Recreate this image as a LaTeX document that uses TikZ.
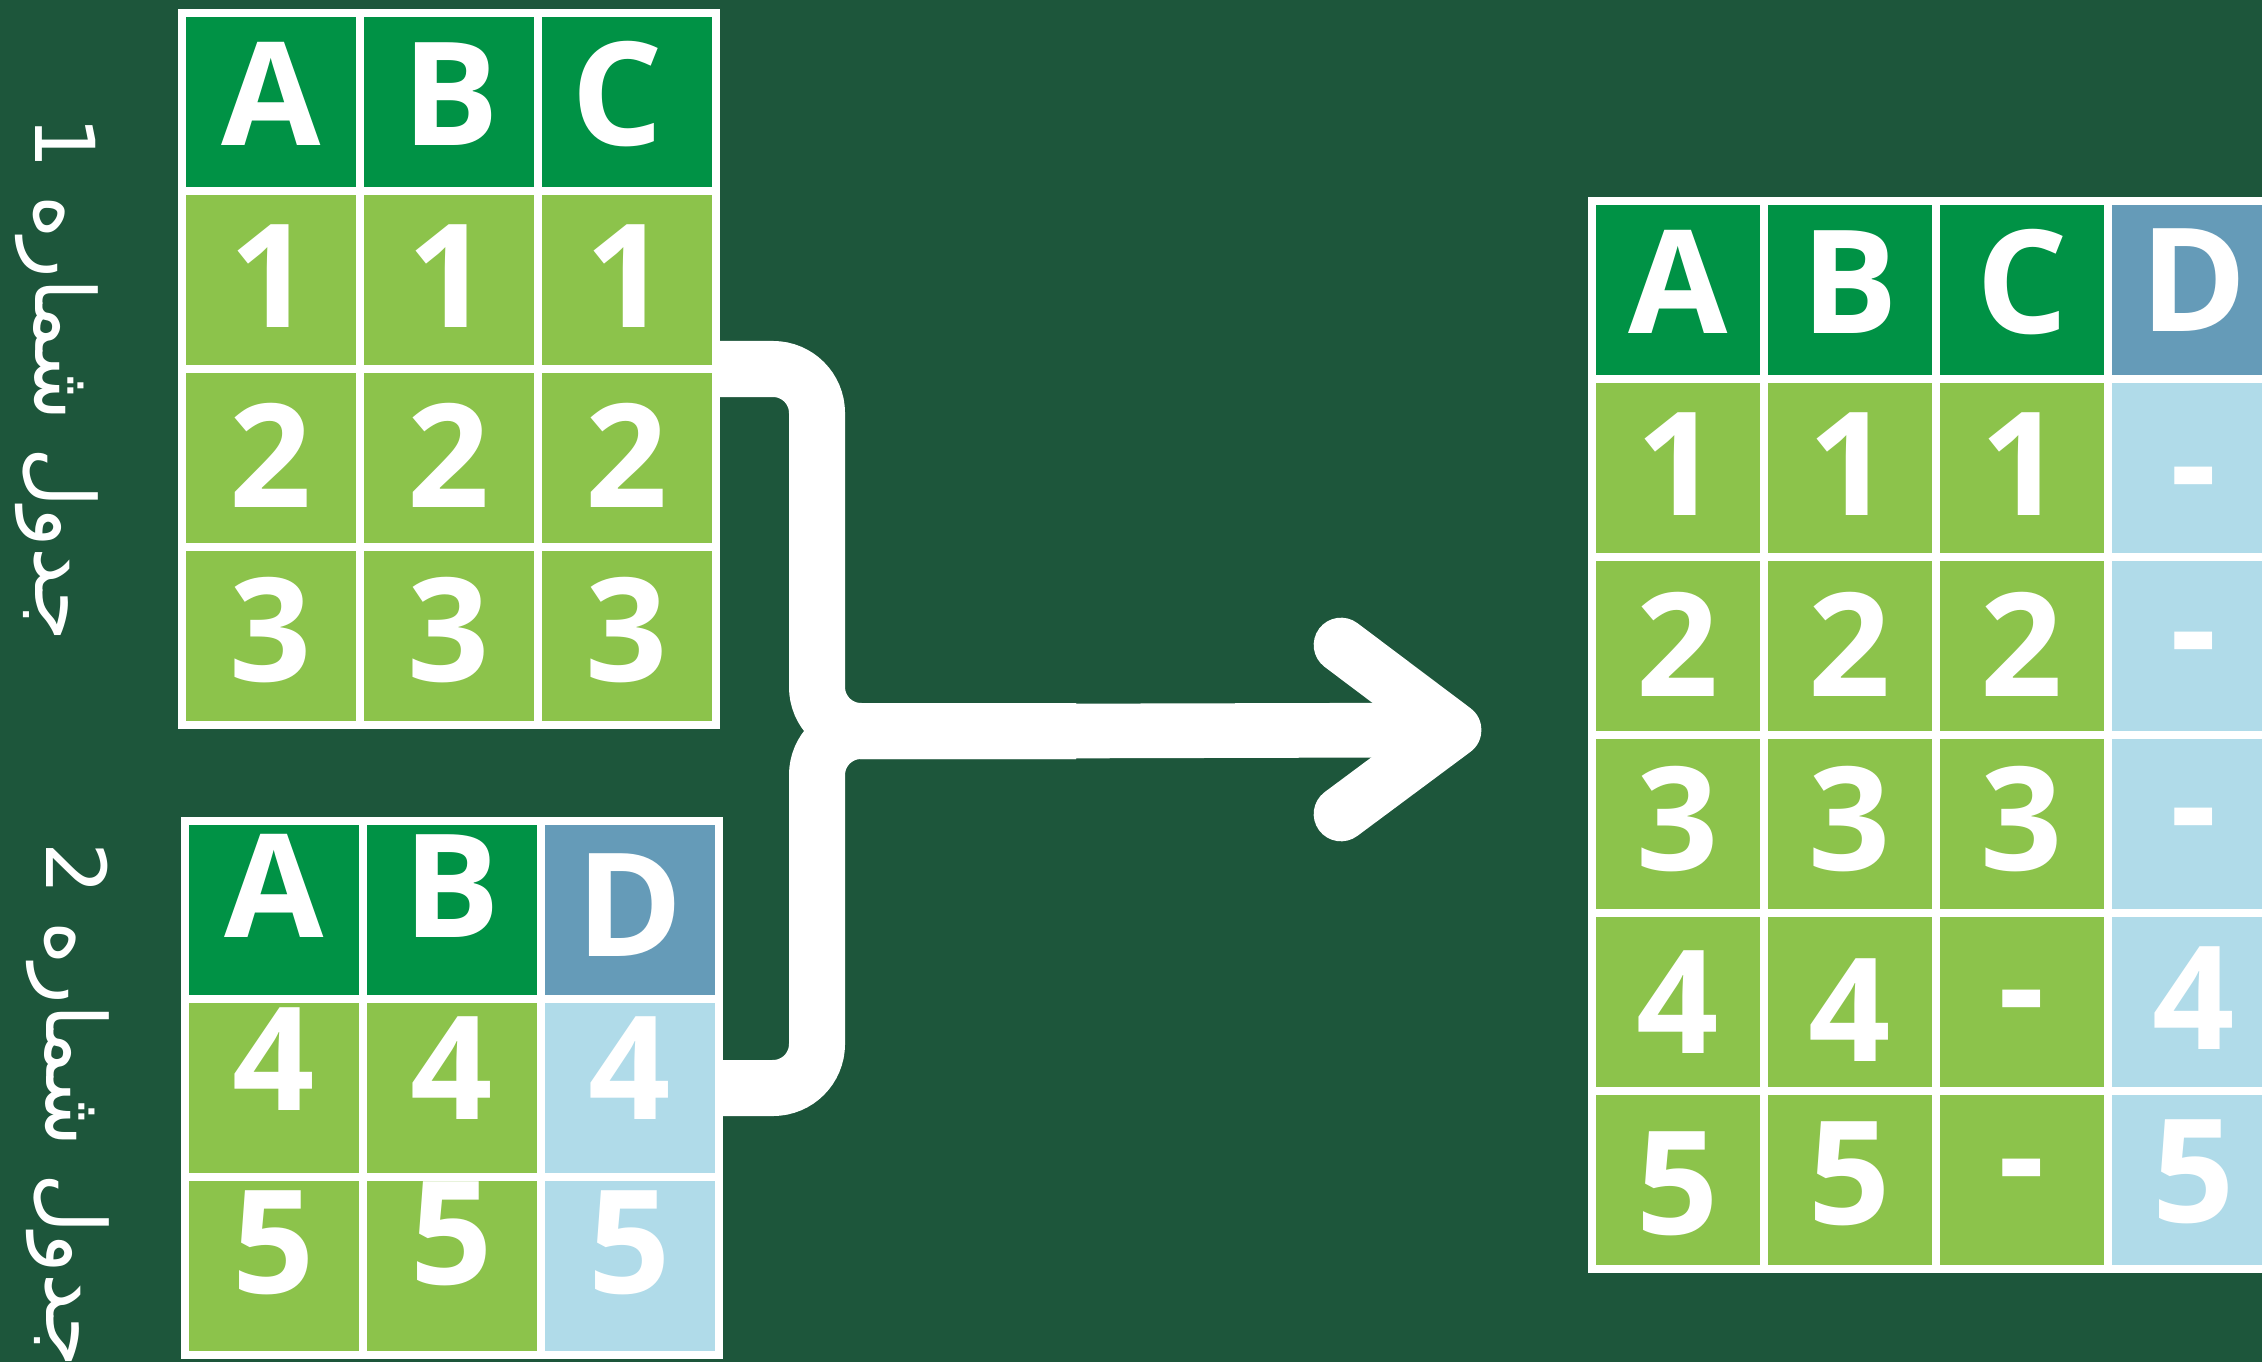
\documentclass[tikz,border=0pt]{standalone}
\usepackage{fontspec}
\newfontfamily\cellfont{Open Sans}
\newfontfamily\arabicfont[Script=Arabic]{DejaVu Sans}
\TeXXeTstate=1
\definecolor{bgc}{RGB}{29,86,59}
\definecolor{hdrg}{HTML}{009245}
\definecolor{lgrn}{HTML}{8CC34B}
\definecolor{hdrb}{HTML}{659BB8}
\definecolor{lblu}{HTML}{B0DBE9}
\tikzset{
 frame/.style={fill=white, draw=none, inner sep=0pt, outer sep=0pt},
 cellbox/.style={draw=none, inner sep=0pt, outer sep=0pt, minimum height=127.5pt},
 wide/.style={minimum width=127.5pt},
 narrow/.style={minimum width=123pt},
 celltext/.style={inner sep=0pt, outer sep=0pt, text=white, text height=77pt, text depth=0pt, font=\cellfont\bfseries\fontsize{108}{108}\selectfont},
 band/.style={draw=white, line width=42pt, rounded corners=33pt},
 chevron/.style={draw=white, line width=41pt, line cap=round, line join=round},
 lbl/.style={text=white, inner sep=0pt, outer sep=0pt, font=\arabicfont\fontsize{62}{62}\selectfont}
}
% name, width style, x, y, fill, text, dy (px, down), dx (px, right)
\newcommand\cellat[8]{%
 \node[cellbox,#2,fill=#5] (#1) at (#3,#4) {};
 \node[celltext] (#1-t) at ([yshift={-0.75pt*(#7)}, xshift={0.75pt*(#8)}]#1.center) {#6};
}
\begin{document}
\begin{tikzpicture}[x=0.75pt,y=-0.75pt]
\useasboundingbox (0,0) rectangle (2262,1362);
\fill[bgc] (0,0) rectangle (2262,1362);
\clip (0,0) rectangle (2262,1362);

% ---------- Table 1 ----------
\node[frame, minimum width=406.5pt, minimum height=540pt] (t1) at (449,369) {};
\cellat{t1a0}{wide}{271}{102}{hdrg}{A}{-8}{0}
\cellat{t1b0}{wide}{449}{102}{hdrg}{B}{-8}{2}
\cellat{t1c0}{wide}{627}{102}{hdrg}{C}{-8}{-10}
\cellat{t1a1}{wide}{271}{280}{lgrn}{1}{-4}{0}
\cellat{t1b1}{wide}{449}{280}{lgrn}{1}{-4}{0}
\cellat{t1c1}{wide}{627}{280}{lgrn}{1}{-4}{0}
\cellat{t1a2}{wide}{271}{458}{lgrn}{2}{-2}{0}
\cellat{t1b2}{wide}{449}{458}{lgrn}{2}{-2}{0}
\cellat{t1c2}{wide}{627}{458}{lgrn}{2}{-2}{0}
\cellat{t1a3}{wide}{271}{636}{lgrn}{3}{-6}{0}
\cellat{t1b3}{wide}{449}{636}{lgrn}{3}{-6}{0}
\cellat{t1c3}{wide}{627}{636}{lgrn}{3}{-6}{0}

% ---------- Table 2 ----------
\node[frame, minimum width=406.5pt, minimum height=406.5pt] (t2) at (452,1088) {};
\cellat{t2a0}{wide}{274}{910}{hdrg}{A}{-24}{0}
\cellat{t2b0}{wide}{452}{910}{hdrg}{B}{-24}{0}
\cellat{t2d0}{wide}{630}{910}{hdrb}{D}{-5}{0}
\cellat{t2a1}{wide}{274}{1088}{lgrn}{4}{-29}{0}
\cellat{t2b1}{wide}{452}{1088}{lgrn}{4}{-20}{0}
\cellat{t2d1}{wide}{630}{1088}{lblu}{4}{-20}{0}
\cellat{t2a2}{wide}{274}{1266}{lgrn}{5}{-24}{0}
\cellat{t2b2}{wide}{452}{1266}{lgrn}{5}{-33}{0}
\cellat{t2d2}{wide}{630}{1266}{lblu}{5}{-24}{0}

% ---------- Table 3 ----------
\node[frame, minimum width=522pt, minimum height=807pt] (t3) at (1936,735) {};
\cellat{t3a0}{narrow}{1678}{290}{hdrg}{A}{-8}{0}
\cellat{t3b0}{narrow}{1850}{290}{hdrg}{B}{-8}{0}
\cellat{t3c0}{narrow}{2022}{290}{hdrg}{C}{-8}{0}
\cellat{t3d0}{narrow}{2194}{290}{hdrb}{D}{-10}{0}
\cellat{t3a1}{narrow}{1678}{468}{lgrn}{1}{-4}{0}
\cellat{t3b1}{narrow}{1850}{468}{lgrn}{1}{-4}{0}
\cellat{t3c1}{narrow}{2022}{468}{lgrn}{1}{-4}{0}
\cellat{t3d1}{narrow}{2194}{468}{lblu}{-}{-5}{0}
\cellat{t3a2}{narrow}{1678}{646}{lgrn}{2}{-1}{0}
\cellat{t3b2}{narrow}{1850}{646}{lgrn}{2}{-1}{0}
\cellat{t3c2}{narrow}{2022}{646}{lgrn}{2}{-1}{0}
\cellat{t3d2}{narrow}{2194}{646}{lblu}{-}{-18}{0}
\cellat{t3a3}{narrow}{1678}{824}{lgrn}{3}{-5}{0}
\cellat{t3b3}{narrow}{1850}{824}{lgrn}{3}{-5}{0}
\cellat{t3c3}{narrow}{2022}{824}{lgrn}{3}{-5}{0}
\cellat{t3d3}{narrow}{2194}{824}{lblu}{-}{-20}{0}
\cellat{t3a4}{narrow}{1678}{1002}{lgrn}{4}{0}{0}
\cellat{t3b4}{narrow}{1850}{1002}{lgrn}{4}{8}{0}
\cellat{t3c4}{narrow}{2022}{1002}{lgrn}{-}{-16}{0}
\cellat{t3d4}{narrow}{2194}{1002}{lblu}{4}{-4}{0}
\cellat{t3a5}{narrow}{1678}{1180}{lgrn}{5}{3}{0}
\cellat{t3b5}{narrow}{1850}{1180}{lgrn}{5}{-7}{0}
\cellat{t3c5}{narrow}{2022}{1180}{lgrn}{-}{-25}{0}
\cellat{t3d5}{narrow}{2194}{1180}{lblu}{5}{-9}{0}

% ---------- Connectors ----------
\coordinate (c1) at (817,369);
\coordinate (c2) at (817,1088);
\coordinate (j) at (817,731);
\coordinate (seam) at (1076,731);
\coordinate (tip) at (1454,730);
\coordinate (aw1) at (1341,645);
\coordinate (aw2) at (1341,814);
\draw[band] (t1.east) -- (c1) -- (j) -- (seam);
\draw[band] (t2.east) -- (c2) -- (j) -- (seam);
\draw[white, line width=41pt] (seam) -- (tip);
\draw[chevron] (aw1) -- (tip) -- (aw2);

% ---------- Labels ----------
\node[lbl, rotate=-90, anchor=base] (lab1) at (35,379) {\beginR جدول شماره 1\endR};
\node[lbl, rotate=-90, anchor=base] (lab2) at (46,1105) {\beginR جدول شماره 2\endR};
\end{tikzpicture}
\end{document}
